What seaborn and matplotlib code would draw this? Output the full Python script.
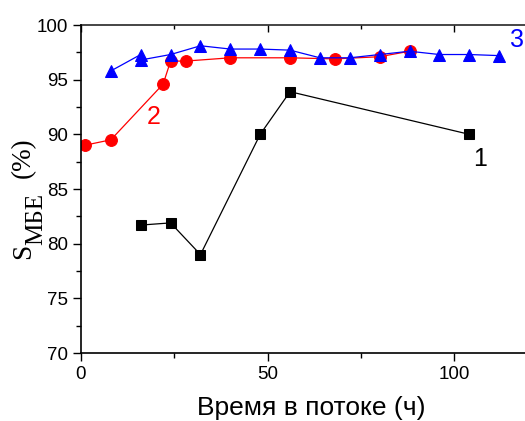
import matplotlib
matplotlib.use("Agg")
import matplotlib.pyplot as plt
import seaborn as sns
import pandas as pd
from matplotlib.ticker import MultipleLocator

# Selectivity to MBE vs time on stream for three catalysts
time_1 = [16, 24, 32, 48, 56, 104]
sel_1 = [81.7, 81.9, 79.0, 90.0, 93.9, 90.0]

time_2 = [1, 8, 22, 24, 28, 40, 56, 68, 80, 88]
sel_2 = [89.0, 89.5, 94.6, 96.7, 96.7, 97.0, 97.0, 96.9, 97.1, 97.6]

time_3 = [8, 16, 16, 24, 32, 40, 48, 56, 64, 72, 80, 88, 96, 104, 112]
sel_3 = [95.8, 97.3, 96.8, 97.3, 98.1, 97.8, 97.8, 97.7, 97.0, 97.0, 97.3, 97.6, 97.3, 97.3, 97.2]

curve_labels = ["1", "2", "3"]
x_label = "Время в потоке (ч)"
# y label pieces: symbol, lowered index, unit
y_label_parts = ["S", "МБЕ", "(%)"]

sns.set_style("ticks")
plt.rcParams["font.family"] = ["Liberation Sans", "DejaVu Sans"]
plt.rcParams["text.color"] = "black"
plt.rcParams["axes.labelcolor"] = "black"
plt.rcParams["xtick.color"] = "black"
plt.rcParams["ytick.color"] = "black"

W, H = 525, 421
fig = plt.figure(figsize=(W / 100, H / 100), dpi=100)
ax = fig.add_axes([81 / W, 68 / H, 448 / W, 328 / H])

series = [
    (time_1, sel_1, "black", "s", 7.0),
    (time_2, sel_2, "red", "o", 8.5),
    (time_3, sel_3, "blue", "^", 9.0),
]
for t, s, color, marker, ms in series:
    df = pd.DataFrame({"t": t, "s": s})
    sns.lineplot(data=df, x="t", y="s", ax=ax, color=color, marker=marker,
                 markersize=ms, markeredgecolor=color, linewidth=0.9,
                 sort=False, estimator=None, legend=False)

ax.text(107, 87.7, curve_labels[0], color="black", fontsize=18, ha="center", va="center")
ax.text(19.4, 91.6, curve_labels[1], color="red", fontsize=18, ha="center", va="center")
ax.text(116.8, 98.6, curve_labels[2], color="blue", fontsize=18, ha="center", va="center")

ax.set_xlim(0, 120)
ax.set_ylim(70, 100)
ax.xaxis.set_major_locator(MultipleLocator(50))
ax.xaxis.set_minor_locator(MultipleLocator(25))
ax.yaxis.set_major_locator(MultipleLocator(5))
ax.yaxis.set_minor_locator(MultipleLocator(2.5))

ax.tick_params(axis="both", which="major", direction="out", length=6, width=1,
               labelsize=13.5, colors="black")
ax.tick_params(axis="both", which="minor", direction="out", length=3.5, width=1)

# top axis: inward ticks, no labels
top = ax.secondary_xaxis("top")
top.xaxis.set_major_locator(MultipleLocator(50))
top.xaxis.set_minor_locator(MultipleLocator(25))
top.tick_params(which="major", direction="in", length=5, width=1, labeltop=False)
top.tick_params(which="minor", direction="in", length=3, width=1)
top.spines["top"].set_linewidth(1.2)

for name, sp in ax.spines.items():
    sp.set_linewidth(1.2)
    sp.set_color("black")
ax.spines["right"].set_visible(False)
ax.spines["top"].set_visible(False)

ax.set_xlabel(x_label, fontsize=19)
ax.xaxis.label.set_va("top")
ax.xaxis.set_label_coords((311 - 81) / 448, -(396 - 353) / 328)
ax.set_ylabel("")

# rotated serif y label assembled from pieces (baseline x, start y in pixels, size)
ylab_pos = [(30, 259, 19.5), (42, 245, 18), (30, 178, 19.5)]
for text, (px, py, fs) in zip(y_label_parts, ylab_pos):
    fig.text(px / W, 1 - py / H, text, rotation=90, rotation_mode="anchor",
             ha="left", va="baseline", fontsize=fs, family="Liberation Serif")

fig.savefig("out.png", dpi=100)
